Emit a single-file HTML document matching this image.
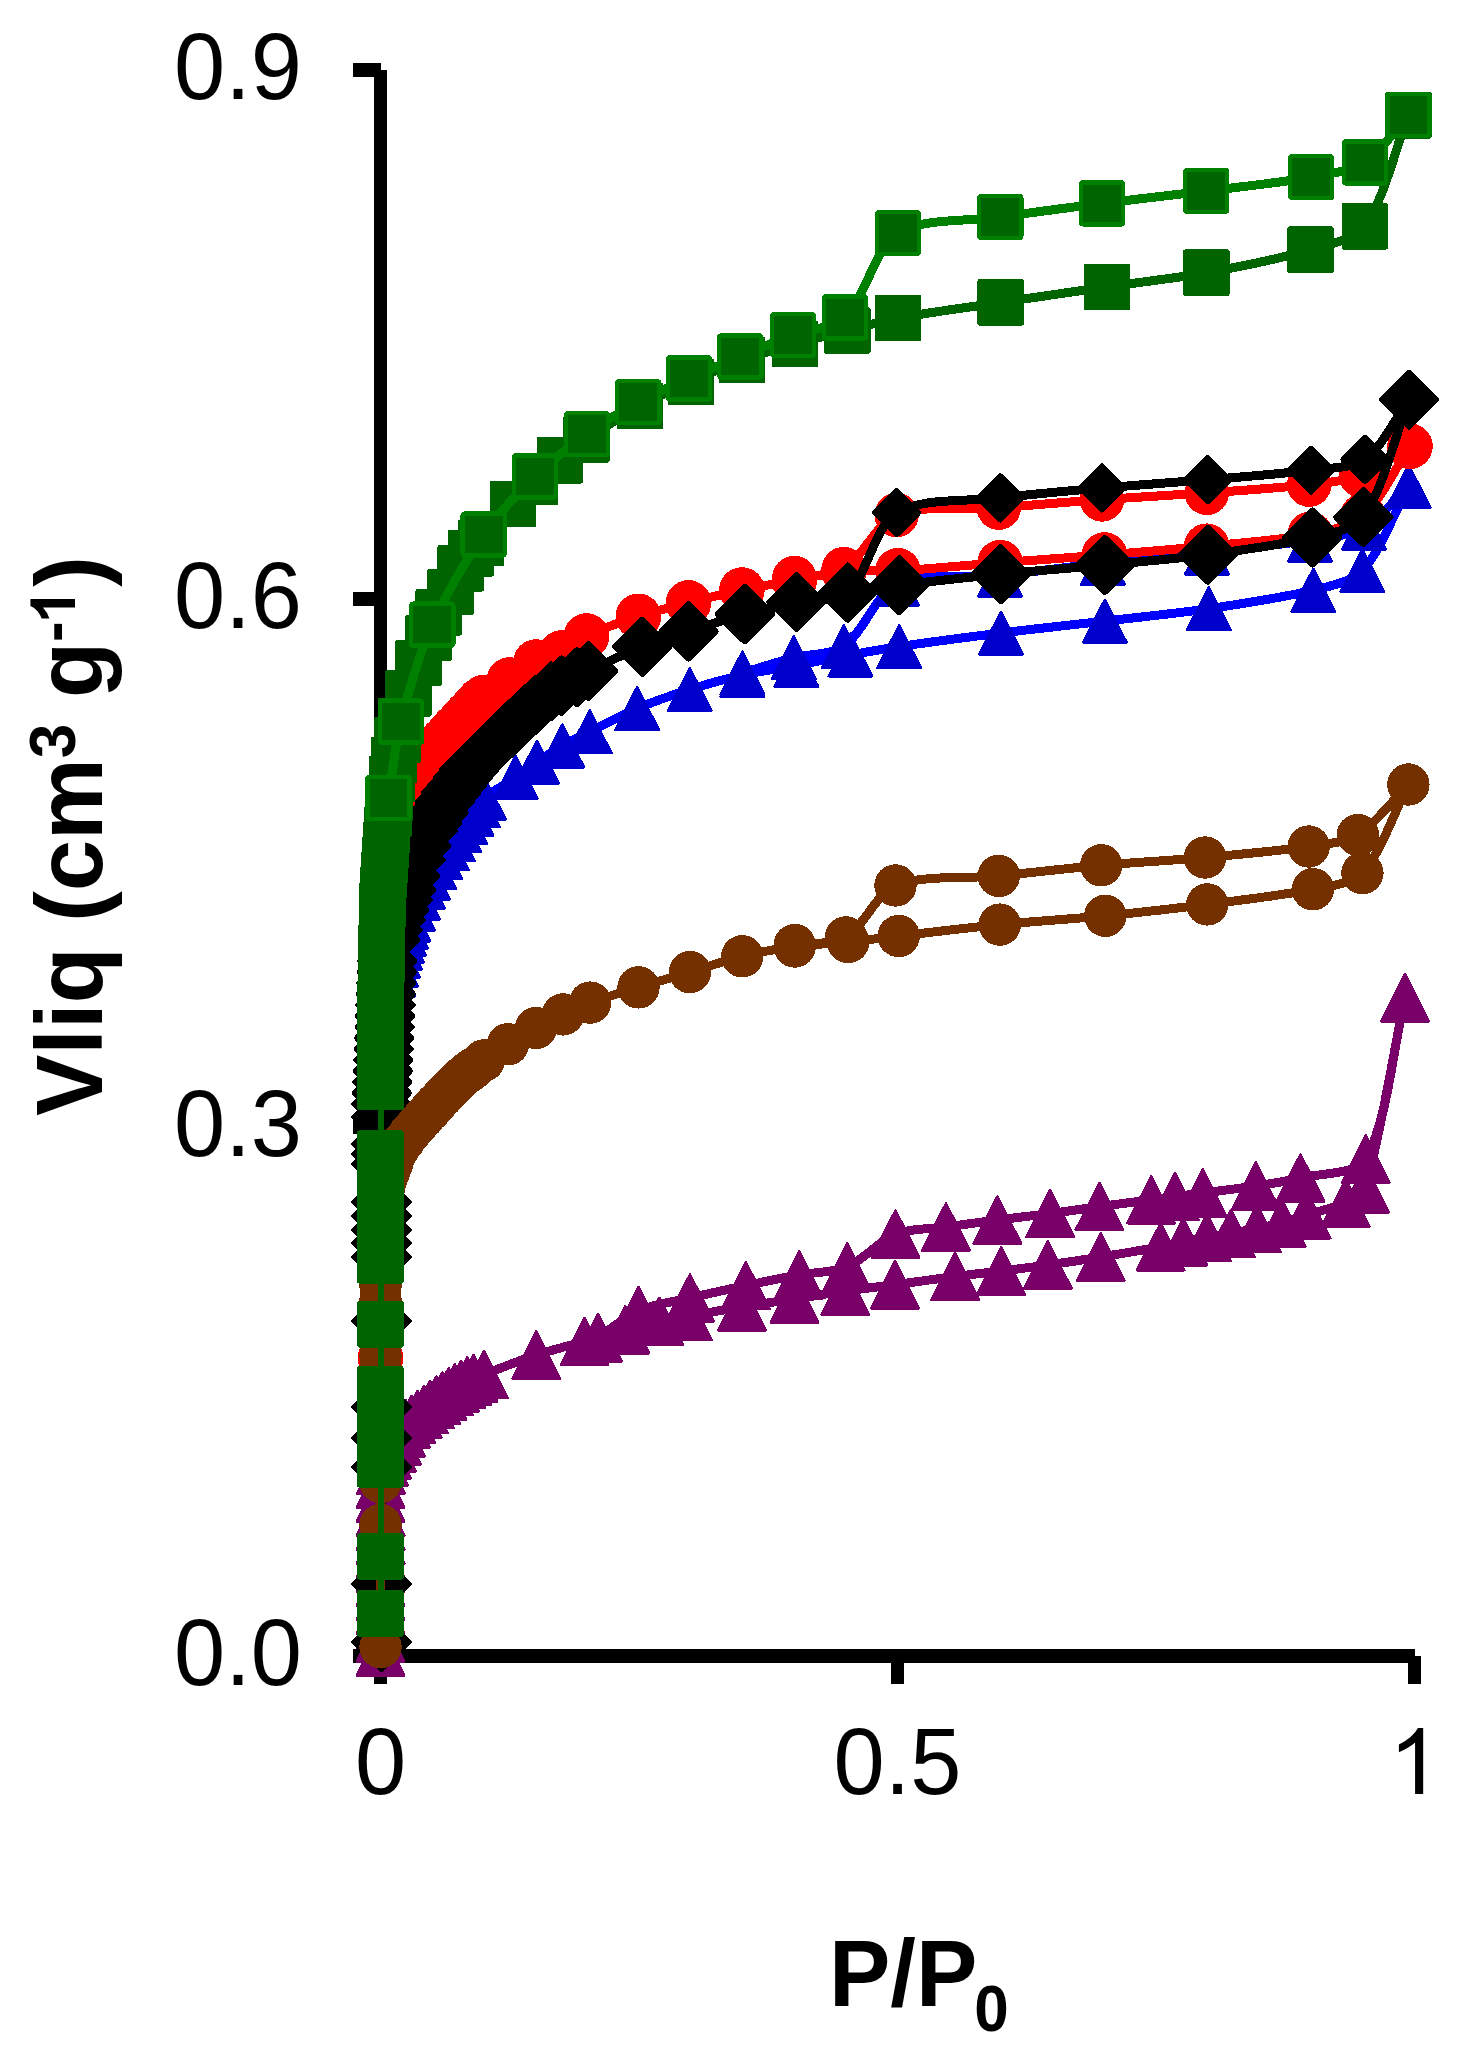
<!DOCTYPE html>
<html lang="en">
<head>
<meta charset="utf-8">
<title>Adsorption isotherms</title>
<style>
html,body{margin:0;padding:0;background:#fff;}
body{width:1479px;height:2061px;position:relative;overflow:hidden;font-family:"Liberation Sans",sans-serif;color:#000;}
svg{position:absolute;left:0;top:0;display:block;}
.t{position:absolute;white-space:nowrap;line-height:1;font-size:92px;}
.s{display:inline-block;transform:scaleY(1.035);transform-origin:50% 84.65%;}
.yt{text-align:right;width:200px;left:102px;}
.xt{text-align:center;width:200px;}
.b{font-weight:bold;}
sup,sub{font-size:62px;line-height:0;}
.ph{display:inline-block;width:34.5px;height:1px;}
</style>
</head>
<body>
<svg width="1479" height="2061" viewBox="0 0 1479 2061" shape-rendering="crispEdges">
<g fill="#000">
<rect x="374" y="70" width="13" height="1593"/>
<rect x="353" y="63" width="28" height="14"/>
<rect x="353" y="591.7" width="28" height="14"/>
<rect x="353" y="1120.3" width="28" height="14"/>
<rect x="353" y="1649" width="1062" height="14"/>
<rect x="374" y="1656" width="13" height="28"/>
<rect x="891" y="1656" width="13" height="28"/>
<rect x="1408" y="1656" width="13" height="28"/>
</g><g fill="#000" shape-rendering="geometricPrecision"><path transform="translate(1388.9 1794) scale(0.04492 -0.04492)" d="M763 0H583V1147Q518 1085 412.5 1023Q307 961 223 930V1104Q374 1175 487 1276Q600 1377 647 1472H763Z"/><path transform="translate(75 623.4) rotate(-90) scale(0.03027 -0.03027)" d="M806 0H525V1059Q371 915 162 846V1101Q272 1137 401 1237.5Q530 1338 578 1472H806Z"/></g>
<g><path d="M380.5 1652C380.5 1647.8 380.5 1642.2 380.5 1638C380.5 1633.8 380.5 1628.2 380.5 1624C380.5 1619.8 380.5 1614.2 380.5 1610C380.5 1605.8 380.5 1600.2 380.5 1596C380.5 1591.8 380.5 1586.2 380.5 1582C380.5 1577.8 380.5 1572.2 380.5 1568C380.5 1563.8 380.5 1558.2 380.5 1554C380.5 1549.8 380.5 1544.2 380.5 1540C380.5 1535.8 380.5 1530.2 380.5 1526C380.5 1521.8 380.5 1516.2 380.5 1512C380.5 1507.8 380.5 1502.2 380.5 1498C380.5 1493.8 380.4 1488.2 380.5 1484C380.6 1479.8 380.3 1474.1 381 1470C381.4 1467.5 383 1464.4 384 1462C384.8 1459.9 385.9 1457 387 1455C388.3 1452.8 390.5 1450.1 392 1448C393.5 1445.9 395.7 1443.2 397 1441C398.4 1438.7 399.7 1435.4 401 1433C402.4 1430.3 404.1 1426.4 406 1424C407.3 1422.3 409.9 1420.8 411.5 1419.4C413.4 1417.9 415.9 1415.9 417.7 1414.3C419.6 1412.8 422 1410.7 423.9 1409.2C425.8 1407.8 428.3 1406 430.1 1404.6C432 1403.3 434.5 1401.5 436.3 1400.2C438.2 1398.9 440.7 1397.1 442.5 1395.8C444.4 1394.6 446.8 1392.8 448.7 1391.6C450.6 1390.4 453.1 1389.1 454.9 1388C456.8 1386.9 459.3 1385.5 461.2 1384.4C463 1383.4 465.4 1381.8 467.4 1380.9C469.2 1380 471.7 1379.1 473.6 1378.4C476.7 1377.2 480.8 1375.6 483.9 1374.4C499.6 1368.6 520.3 1360.2 536.2 1355C550.5 1350.3 570 1345.5 584.5 1341.4C596.8 1337.9 613.1 1333.1 625.4 1329.8C635.5 1327.1 649 1323.5 659.2 1321.3C667.8 1319.5 679.4 1317.8 688 1316.3C704.2 1313.5 725.8 1309.4 742 1306.8C757.7 1304.2 778.8 1301.4 794.5 1299C809.7 1296.7 830 1293.2 845.2 1291C860.1 1288.9 880.1 1286.7 895 1284.7C913.1 1282.3 937.1 1278.8 955.2 1276.5C969 1274.7 987.3 1272.7 1001.1 1271C1015.1 1269.3 1033.9 1267 1047.9 1265C1063.8 1262.8 1084.9 1259.6 1100.7 1257C1118.7 1254.1 1142.7 1250.1 1160.6 1246.8C1167.5 1245.5 1176.5 1243.2 1183.3 1241.8C1190.4 1240.4 1200 1238.8 1207.1 1237.5C1214.2 1236.2 1223.8 1234.5 1230.9 1233.2C1238.7 1231.8 1249.1 1230 1256.9 1228.4C1264.4 1226.9 1274.4 1225 1281.7 1223C1289.3 1220.9 1299.1 1217.1 1306.6 1214.8C1318.3 1211.1 1334.6 1207.9 1345.6 1203C1352.1 1200.1 1363 1195.6 1365 1188.8C1380.9 1134 1393 1055 1405 997.7" fill="none" stroke="#780068" stroke-width="9" stroke-linejoin="round" stroke-linecap="round"/>
<path d="M380.5 1628.5L404.2 1675.5L356.8 1675.5Z" fill="#780068" stroke="#780068" stroke-width="2.6" stroke-linejoin="round"/>
<path d="M380.5 1614.5L404.2 1661.5L356.8 1661.5Z" fill="#780068" stroke="#780068" stroke-width="2.6" stroke-linejoin="round"/>
<path d="M380.5 1600.5L404.2 1647.5L356.8 1647.5Z" fill="#780068" stroke="#780068" stroke-width="2.6" stroke-linejoin="round"/>
<path d="M380.5 1586.5L404.2 1633.5L356.8 1633.5Z" fill="#780068" stroke="#780068" stroke-width="2.6" stroke-linejoin="round"/>
<path d="M380.5 1572.5L404.2 1619.5L356.8 1619.5Z" fill="#780068" stroke="#780068" stroke-width="2.6" stroke-linejoin="round"/>
<path d="M380.5 1558.5L404.2 1605.5L356.8 1605.5Z" fill="#780068" stroke="#780068" stroke-width="2.6" stroke-linejoin="round"/>
<path d="M380.5 1544.5L404.2 1591.5L356.8 1591.5Z" fill="#780068" stroke="#780068" stroke-width="2.6" stroke-linejoin="round"/>
<path d="M380.5 1530.5L404.2 1577.5L356.8 1577.5Z" fill="#780068" stroke="#780068" stroke-width="2.6" stroke-linejoin="round"/>
<path d="M380.5 1516.5L404.2 1563.5L356.8 1563.5Z" fill="#780068" stroke="#780068" stroke-width="2.6" stroke-linejoin="round"/>
<path d="M380.5 1502.5L404.2 1549.5L356.8 1549.5Z" fill="#780068" stroke="#780068" stroke-width="2.6" stroke-linejoin="round"/>
<path d="M380.5 1488.5L404.2 1535.5L356.8 1535.5Z" fill="#780068" stroke="#780068" stroke-width="2.6" stroke-linejoin="round"/>
<path d="M380.5 1474.5L404.2 1521.5L356.8 1521.5Z" fill="#780068" stroke="#780068" stroke-width="2.6" stroke-linejoin="round"/>
<path d="M380.5 1460.5L404.2 1507.5L356.8 1507.5Z" fill="#780068" stroke="#780068" stroke-width="2.6" stroke-linejoin="round"/>
<path d="M381 1446.5L404.7 1493.5L357.3 1493.5Z" fill="#780068" stroke="#780068" stroke-width="2.6" stroke-linejoin="round"/>
<path d="M384 1438.5L407.7 1485.5L360.3 1485.5Z" fill="#780068" stroke="#780068" stroke-width="2.6" stroke-linejoin="round"/>
<path d="M387 1431.5L410.7 1478.5L363.3 1478.5Z" fill="#780068" stroke="#780068" stroke-width="2.6" stroke-linejoin="round"/>
<path d="M392 1424.5L415.7 1471.5L368.3 1471.5Z" fill="#780068" stroke="#780068" stroke-width="2.6" stroke-linejoin="round"/>
<path d="M397 1417.5L420.7 1464.5L373.3 1464.5Z" fill="#780068" stroke="#780068" stroke-width="2.6" stroke-linejoin="round"/>
<path d="M401 1409.5L424.7 1456.5L377.3 1456.5Z" fill="#780068" stroke="#780068" stroke-width="2.6" stroke-linejoin="round"/>
<path d="M406 1400.5L429.7 1447.5L382.3 1447.5Z" fill="#780068" stroke="#780068" stroke-width="2.6" stroke-linejoin="round"/>
<path d="M411.5 1396L435.2 1442.9L387.8 1442.9Z" fill="#780068" stroke="#780068" stroke-width="2.6" stroke-linejoin="round"/>
<path d="M417.7 1390.9L441.4 1437.8L394 1437.8Z" fill="#780068" stroke="#780068" stroke-width="2.6" stroke-linejoin="round"/>
<path d="M423.9 1385.8L447.6 1432.7L400.2 1432.7Z" fill="#780068" stroke="#780068" stroke-width="2.6" stroke-linejoin="round"/>
<path d="M430.1 1381.1L453.8 1428L406.4 1428Z" fill="#780068" stroke="#780068" stroke-width="2.6" stroke-linejoin="round"/>
<path d="M436.3 1376.8L460 1423.7L412.6 1423.7Z" fill="#780068" stroke="#780068" stroke-width="2.6" stroke-linejoin="round"/>
<path d="M442.5 1372.4L466.2 1419.3L418.8 1419.3Z" fill="#780068" stroke="#780068" stroke-width="2.6" stroke-linejoin="round"/>
<path d="M448.7 1368.1L472.4 1415L425 1415Z" fill="#780068" stroke="#780068" stroke-width="2.6" stroke-linejoin="round"/>
<path d="M454.9 1364.6L478.6 1411.5L431.2 1411.5Z" fill="#780068" stroke="#780068" stroke-width="2.6" stroke-linejoin="round"/>
<path d="M461.2 1361L484.9 1407.9L437.5 1407.9Z" fill="#780068" stroke="#780068" stroke-width="2.6" stroke-linejoin="round"/>
<path d="M467.4 1357.4L491.1 1404.3L443.7 1404.3Z" fill="#780068" stroke="#780068" stroke-width="2.6" stroke-linejoin="round"/>
<path d="M473.6 1354.9L497.3 1401.8L449.9 1401.8Z" fill="#780068" stroke="#780068" stroke-width="2.6" stroke-linejoin="round"/>
<path d="M483.9 1351L507.6 1397.9L460.2 1397.9Z" fill="#780068" stroke="#780068" stroke-width="2.6" stroke-linejoin="round"/>
<path d="M536.2 1331.5L559.9 1378.5L512.5 1378.5Z" fill="#780068" stroke="#780068" stroke-width="2.6" stroke-linejoin="round"/>
<path d="M584.5 1318L608.2 1364.9L560.8 1364.9Z" fill="#780068" stroke="#780068" stroke-width="2.6" stroke-linejoin="round"/>
<path d="M625.4 1306.3L649.1 1353.2L601.7 1353.2Z" fill="#780068" stroke="#780068" stroke-width="2.6" stroke-linejoin="round"/>
<path d="M659.2 1297.8L682.9 1344.8L635.5 1344.8Z" fill="#780068" stroke="#780068" stroke-width="2.6" stroke-linejoin="round"/>
<path d="M688 1292.8L711.7 1339.8L664.3 1339.8Z" fill="#780068" stroke="#780068" stroke-width="2.6" stroke-linejoin="round"/>
<path d="M742 1283.3L765.7 1330.2L718.3 1330.2Z" fill="#780068" stroke="#780068" stroke-width="2.6" stroke-linejoin="round"/>
<path d="M794.5 1275.5L818.2 1322.5L770.8 1322.5Z" fill="#780068" stroke="#780068" stroke-width="2.6" stroke-linejoin="round"/>
<path d="M845.2 1267.5L868.9 1314.5L821.5 1314.5Z" fill="#780068" stroke="#780068" stroke-width="2.6" stroke-linejoin="round"/>
<path d="M895 1261.2L918.7 1308.2L871.3 1308.2Z" fill="#780068" stroke="#780068" stroke-width="2.6" stroke-linejoin="round"/>
<path d="M955.2 1253L978.9 1300L931.5 1300Z" fill="#780068" stroke="#780068" stroke-width="2.6" stroke-linejoin="round"/>
<path d="M1001.1 1247.5L1024.8 1294.5L977.4 1294.5Z" fill="#780068" stroke="#780068" stroke-width="2.6" stroke-linejoin="round"/>
<path d="M1047.9 1241.5L1071.6 1288.5L1024.2 1288.5Z" fill="#780068" stroke="#780068" stroke-width="2.6" stroke-linejoin="round"/>
<path d="M1100.7 1233.5L1124.4 1280.5L1077 1280.5Z" fill="#780068" stroke="#780068" stroke-width="2.6" stroke-linejoin="round"/>
<path d="M1160.6 1223.3L1184.3 1270.2L1136.9 1270.2Z" fill="#780068" stroke="#780068" stroke-width="2.6" stroke-linejoin="round"/>
<path d="M1183.3 1218.3L1207 1265.2L1159.6 1265.2Z" fill="#780068" stroke="#780068" stroke-width="2.6" stroke-linejoin="round"/>
<path d="M1207.1 1214L1230.8 1261L1183.4 1261Z" fill="#780068" stroke="#780068" stroke-width="2.6" stroke-linejoin="round"/>
<path d="M1230.9 1209.8L1254.6 1256.7L1207.2 1256.7Z" fill="#780068" stroke="#780068" stroke-width="2.6" stroke-linejoin="round"/>
<path d="M1256.9 1205L1280.6 1251.9L1233.2 1251.9Z" fill="#780068" stroke="#780068" stroke-width="2.6" stroke-linejoin="round"/>
<path d="M1281.7 1199.5L1305.4 1246.5L1258 1246.5Z" fill="#780068" stroke="#780068" stroke-width="2.6" stroke-linejoin="round"/>
<path d="M1306.6 1191.3L1330.3 1238.2L1282.9 1238.2Z" fill="#780068" stroke="#780068" stroke-width="2.6" stroke-linejoin="round"/>
<path d="M1345.6 1179.5L1369.3 1226.5L1321.9 1226.5Z" fill="#780068" stroke="#780068" stroke-width="2.6" stroke-linejoin="round"/>
<path d="M1365 1165.3L1388.7 1212.2L1341.3 1212.2Z" fill="#780068" stroke="#780068" stroke-width="2.6" stroke-linejoin="round"/>
<path d="M1405 974.2L1428.7 1021.2L1381.3 1021.2Z" fill="#780068" stroke="#780068" stroke-width="2.6" stroke-linejoin="round"/>
<path d="M1405 997.7C1393.2 1046.1 1387.9 1120.6 1365.7 1159C1356.6 1174.7 1320.3 1173.1 1300.5 1178C1287.3 1181.2 1269.3 1183.9 1255.9 1186C1240 1188.4 1218.7 1190.9 1202.7 1193C1194.4 1194.1 1183.4 1195.4 1175.1 1196.5C1167.9 1197.4 1158.4 1198.7 1151.2 1199.7C1135.7 1201.8 1114.9 1204.5 1099.4 1206.6C1084.6 1208.6 1065 1211.6 1050.2 1213.5C1034.4 1215.6 1013.2 1217.9 997.4 1220C982 1222 961.4 1224.9 946 1227C930.8 1229.1 909.3 1228.4 895.5 1234C879.7 1240.4 863.1 1260.3 847.3 1267C834.2 1272.6 813.6 1272.2 799.2 1274.8C783.1 1277.7 761.8 1282.2 745.8 1285.6C729 1289.2 706.7 1294.1 690 1298C674.5 1301.6 653 1304.4 638.6 1310.6C625.4 1316.3 610.2 1329.6 598 1337.7" fill="none" stroke="#780068" stroke-width="9" stroke-linejoin="round" stroke-linecap="round"/>
<path d="M1405 974.2L1428.7 1021.2L1381.3 1021.2Z" fill="#780068" stroke="#780068" stroke-width="2.6" stroke-linejoin="round"/>
<path d="M1365.7 1135.5L1389.4 1182.5L1342 1182.5Z" fill="#780068" stroke="#780068" stroke-width="2.6" stroke-linejoin="round"/>
<path d="M1300.5 1154.5L1324.2 1201.5L1276.8 1201.5Z" fill="#780068" stroke="#780068" stroke-width="2.6" stroke-linejoin="round"/>
<path d="M1255.9 1162.5L1279.6 1209.5L1232.2 1209.5Z" fill="#780068" stroke="#780068" stroke-width="2.6" stroke-linejoin="round"/>
<path d="M1202.7 1169.5L1226.4 1216.5L1179 1216.5Z" fill="#780068" stroke="#780068" stroke-width="2.6" stroke-linejoin="round"/>
<path d="M1175.1 1173L1198.8 1220L1151.4 1220Z" fill="#780068" stroke="#780068" stroke-width="2.6" stroke-linejoin="round"/>
<path d="M1151.2 1176.2L1174.9 1223.2L1127.5 1223.2Z" fill="#780068" stroke="#780068" stroke-width="2.6" stroke-linejoin="round"/>
<path d="M1099.4 1183.1L1123.1 1230L1075.7 1230Z" fill="#780068" stroke="#780068" stroke-width="2.6" stroke-linejoin="round"/>
<path d="M1050.2 1190L1073.9 1237L1026.5 1237Z" fill="#780068" stroke="#780068" stroke-width="2.6" stroke-linejoin="round"/>
<path d="M997.4 1196.5L1021.1 1243.5L973.7 1243.5Z" fill="#780068" stroke="#780068" stroke-width="2.6" stroke-linejoin="round"/>
<path d="M946 1203.5L969.7 1250.5L922.3 1250.5Z" fill="#780068" stroke="#780068" stroke-width="2.6" stroke-linejoin="round"/>
<path d="M895.5 1210.5L919.2 1257.5L871.8 1257.5Z" fill="#780068" stroke="#780068" stroke-width="2.6" stroke-linejoin="round"/>
<path d="M847.3 1243.5L871 1290.5L823.6 1290.5Z" fill="#780068" stroke="#780068" stroke-width="2.6" stroke-linejoin="round"/>
<path d="M799.2 1251.3L822.9 1298.2L775.5 1298.2Z" fill="#780068" stroke="#780068" stroke-width="2.6" stroke-linejoin="round"/>
<path d="M745.8 1262.1L769.5 1309L722.1 1309Z" fill="#780068" stroke="#780068" stroke-width="2.6" stroke-linejoin="round"/>
<path d="M690 1274.5L713.7 1321.5L666.3 1321.5Z" fill="#780068" stroke="#780068" stroke-width="2.6" stroke-linejoin="round"/>
<path d="M638.6 1287.1L662.3 1334L614.9 1334Z" fill="#780068" stroke="#780068" stroke-width="2.6" stroke-linejoin="round"/>
<path d="M598 1314.2L621.7 1361.2L574.3 1361.2Z" fill="#780068" stroke="#780068" stroke-width="2.6" stroke-linejoin="round"/></g>
<g><path d="M380.5 1613C380.5 1595.9 380.5 1573.1 380.5 1556C380.5 1521.2 380.5 1474.8 380.5 1440C380.5 1413 380.5 1377 380.5 1350C380.5 1320 380.5 1280 380.5 1250C380.5 1232 380.5 1208 380.5 1190C380.5 1161.5 380.5 1123.5 380.5 1095C380.5 1090.8 380.5 1085.2 380.5 1081C380.5 1076.8 380.5 1071.2 380.5 1067C380.5 1062.8 380.5 1057.2 380.5 1053C380.5 1048.8 380.5 1043.2 380.5 1039C380.5 1034.8 380.2 1029.2 380.5 1025C380.7 1022 381.5 1018 382 1015C382.4 1012.9 383 1010.1 383.5 1008C383.9 1006.2 384.5 1003.8 385 1002C385.8 999.3 387.1 995.7 388 993C388.9 990.6 390.3 987.4 391 985C391.9 982 392.8 978 393.5 975C394.2 972 395.3 968 396 965C396.6 962.3 397.4 958.7 398 956C398.6 953.6 399.4 950.4 400 948C400.6 945.9 401.4 943.1 402 941C402.6 938.9 403.4 936.1 404 934C404.6 931.9 405.3 929.1 406 927C406.7 924.9 407.7 922.1 408.5 920C409.8 916.7 411.6 912.3 413 909C414.4 905.7 416.5 901.3 418 898C419.5 894.7 421.4 890.2 423 887C424.4 884.2 426.5 880.7 428.1 878C429.9 874.9 432.4 870.9 434.3 867.9C436.1 864.8 438.5 860.7 440.5 857.7C442.3 854.9 444.8 851.4 446.7 848.7C448.5 845.9 451 842.3 452.9 839.6C454.7 836.9 457.2 833.3 459.1 830.6C460.9 828.1 463.4 824.8 465.3 822.4C467.1 819.9 469.6 816.6 471.5 814.1C473.4 811.6 475.8 808.3 477.7 805.8C479.5 803.5 481.5 799.8 483.9 798C492.9 791.3 506.2 783.7 515.6 777.3C522.1 772.9 530.4 766.4 537 762C544.5 757 554.5 750.5 562.3 746C570.3 741.4 581.4 735.9 589.7 731.7C603.9 724.6 622.5 714.6 637.1 708.5C652.6 702 673.8 694.6 689.8 689.5C705.4 684.6 726.5 678.7 742.4 675.1C758.4 671.5 780.2 668.3 796.4 665.3C812.6 662.3 834.2 658 850.4 655C865 652.3 884.5 648.7 899.2 646.6C929.7 642.1 970.4 636.8 1001 633C1032.1 629.1 1073.7 624.7 1104.8 621.1C1136 617.5 1177.7 613.3 1208.8 608.7C1240.3 604 1282.5 597.8 1313.3 590.2C1328.6 586.4 1352.3 581.8 1362.4 570.7C1380.9 550.6 1394.7 511.6 1408.6 486.2" fill="none" stroke="#0000ff" stroke-width="9" stroke-linejoin="round" stroke-linecap="round"/>
<path d="M380.5 1591.8L402.2 1634.2L358.8 1634.2Z" fill="#0000cd" stroke="#0000cd" stroke-width="2.6" stroke-linejoin="round"/>
<path d="M380.5 1534.8L402.2 1577.2L358.8 1577.2Z" fill="#0000cd" stroke="#0000cd" stroke-width="2.6" stroke-linejoin="round"/>
<path d="M380.5 1418.8L402.2 1461.2L358.8 1461.2Z" fill="#0000cd" stroke="#0000cd" stroke-width="2.6" stroke-linejoin="round"/>
<path d="M380.5 1328.8L402.2 1371.2L358.8 1371.2Z" fill="#0000cd" stroke="#0000cd" stroke-width="2.6" stroke-linejoin="round"/>
<path d="M380.5 1228.8L402.2 1271.2L358.8 1271.2Z" fill="#0000cd" stroke="#0000cd" stroke-width="2.6" stroke-linejoin="round"/>
<path d="M380.5 1168.8L402.2 1211.2L358.8 1211.2Z" fill="#0000cd" stroke="#0000cd" stroke-width="2.6" stroke-linejoin="round"/>
<path d="M380.5 1073.8L402.2 1116.2L358.8 1116.2Z" fill="#0000cd" stroke="#0000cd" stroke-width="2.6" stroke-linejoin="round"/>
<path d="M380.5 1059.8L402.2 1102.2L358.8 1102.2Z" fill="#0000cd" stroke="#0000cd" stroke-width="2.6" stroke-linejoin="round"/>
<path d="M380.5 1045.8L402.2 1088.2L358.8 1088.2Z" fill="#0000cd" stroke="#0000cd" stroke-width="2.6" stroke-linejoin="round"/>
<path d="M380.5 1031.8L402.2 1074.2L358.8 1074.2Z" fill="#0000cd" stroke="#0000cd" stroke-width="2.6" stroke-linejoin="round"/>
<path d="M380.5 1017.8L402.2 1060.2L358.8 1060.2Z" fill="#0000cd" stroke="#0000cd" stroke-width="2.6" stroke-linejoin="round"/>
<path d="M380.5 1003.8L402.2 1046.2L358.8 1046.2Z" fill="#0000cd" stroke="#0000cd" stroke-width="2.6" stroke-linejoin="round"/>
<path d="M382 993.8L403.7 1036.2L360.3 1036.2Z" fill="#0000cd" stroke="#0000cd" stroke-width="2.6" stroke-linejoin="round"/>
<path d="M383.5 986.8L405.2 1029.2L361.8 1029.2Z" fill="#0000cd" stroke="#0000cd" stroke-width="2.6" stroke-linejoin="round"/>
<path d="M385 980.8L406.7 1023.2L363.3 1023.2Z" fill="#0000cd" stroke="#0000cd" stroke-width="2.6" stroke-linejoin="round"/>
<path d="M388 971.8L409.7 1014.2L366.3 1014.2Z" fill="#0000cd" stroke="#0000cd" stroke-width="2.6" stroke-linejoin="round"/>
<path d="M391 963.8L412.7 1006.2L369.3 1006.2Z" fill="#0000cd" stroke="#0000cd" stroke-width="2.6" stroke-linejoin="round"/>
<path d="M393.5 953.8L415.2 996.2L371.8 996.2Z" fill="#0000cd" stroke="#0000cd" stroke-width="2.6" stroke-linejoin="round"/>
<path d="M396 943.8L417.7 986.2L374.3 986.2Z" fill="#0000cd" stroke="#0000cd" stroke-width="2.6" stroke-linejoin="round"/>
<path d="M398 934.8L419.7 977.2L376.3 977.2Z" fill="#0000cd" stroke="#0000cd" stroke-width="2.6" stroke-linejoin="round"/>
<path d="M400 926.8L421.7 969.2L378.3 969.2Z" fill="#0000cd" stroke="#0000cd" stroke-width="2.6" stroke-linejoin="round"/>
<path d="M402 919.8L423.7 962.2L380.3 962.2Z" fill="#0000cd" stroke="#0000cd" stroke-width="2.6" stroke-linejoin="round"/>
<path d="M404 912.8L425.7 955.2L382.3 955.2Z" fill="#0000cd" stroke="#0000cd" stroke-width="2.6" stroke-linejoin="round"/>
<path d="M406 905.8L427.7 948.2L384.3 948.2Z" fill="#0000cd" stroke="#0000cd" stroke-width="2.6" stroke-linejoin="round"/>
<path d="M408.5 898.8L430.2 941.2L386.8 941.2Z" fill="#0000cd" stroke="#0000cd" stroke-width="2.6" stroke-linejoin="round"/>
<path d="M413 887.8L434.7 930.2L391.3 930.2Z" fill="#0000cd" stroke="#0000cd" stroke-width="2.6" stroke-linejoin="round"/>
<path d="M418 876.8L439.7 919.2L396.3 919.2Z" fill="#0000cd" stroke="#0000cd" stroke-width="2.6" stroke-linejoin="round"/>
<path d="M423 865.8L444.7 908.2L401.3 908.2Z" fill="#0000cd" stroke="#0000cd" stroke-width="2.6" stroke-linejoin="round"/>
<path d="M428.1 856.8L449.8 899.2L406.4 899.2Z" fill="#0000cd" stroke="#0000cd" stroke-width="2.6" stroke-linejoin="round"/>
<path d="M434.3 846.7L456 889.1L412.6 889.1Z" fill="#0000cd" stroke="#0000cd" stroke-width="2.6" stroke-linejoin="round"/>
<path d="M440.5 836.5L462.2 878.9L418.8 878.9Z" fill="#0000cd" stroke="#0000cd" stroke-width="2.6" stroke-linejoin="round"/>
<path d="M446.7 827.5L468.4 869.9L425 869.9Z" fill="#0000cd" stroke="#0000cd" stroke-width="2.6" stroke-linejoin="round"/>
<path d="M452.9 818.4L474.6 860.8L431.2 860.8Z" fill="#0000cd" stroke="#0000cd" stroke-width="2.6" stroke-linejoin="round"/>
<path d="M459.1 809.4L480.8 851.8L437.4 851.8Z" fill="#0000cd" stroke="#0000cd" stroke-width="2.6" stroke-linejoin="round"/>
<path d="M465.3 801.2L487 843.6L443.6 843.6Z" fill="#0000cd" stroke="#0000cd" stroke-width="2.6" stroke-linejoin="round"/>
<path d="M471.5 792.9L493.2 835.3L449.8 835.3Z" fill="#0000cd" stroke="#0000cd" stroke-width="2.6" stroke-linejoin="round"/>
<path d="M477.7 784.6L499.4 827L456 827Z" fill="#0000cd" stroke="#0000cd" stroke-width="2.6" stroke-linejoin="round"/>
<path d="M483.9 776.8L505.6 819.2L462.2 819.2Z" fill="#0000cd" stroke="#0000cd" stroke-width="2.6" stroke-linejoin="round"/>
<path d="M515.6 756.1L537.3 798.5L493.9 798.5Z" fill="#0000cd" stroke="#0000cd" stroke-width="2.6" stroke-linejoin="round"/>
<path d="M537 740.8L558.7 783.2L515.3 783.2Z" fill="#0000cd" stroke="#0000cd" stroke-width="2.6" stroke-linejoin="round"/>
<path d="M562.3 724.8L584 767.2L540.6 767.2Z" fill="#0000cd" stroke="#0000cd" stroke-width="2.6" stroke-linejoin="round"/>
<path d="M589.7 710.5L611.4 752.9L568 752.9Z" fill="#0000cd" stroke="#0000cd" stroke-width="2.6" stroke-linejoin="round"/>
<path d="M637.1 687.3L658.8 729.7L615.4 729.7Z" fill="#0000cd" stroke="#0000cd" stroke-width="2.6" stroke-linejoin="round"/>
<path d="M689.8 668.3L711.5 710.7L668.1 710.7Z" fill="#0000cd" stroke="#0000cd" stroke-width="2.6" stroke-linejoin="round"/>
<path d="M742.4 653.9L764.1 696.3L720.7 696.3Z" fill="#0000cd" stroke="#0000cd" stroke-width="2.6" stroke-linejoin="round"/>
<path d="M796.4 644.1L818.1 686.5L774.7 686.5Z" fill="#0000cd" stroke="#0000cd" stroke-width="2.6" stroke-linejoin="round"/>
<path d="M850.4 633.8L872.1 676.2L828.7 676.2Z" fill="#0000cd" stroke="#0000cd" stroke-width="2.6" stroke-linejoin="round"/>
<path d="M899.2 625.4L920.9 667.8L877.5 667.8Z" fill="#0000cd" stroke="#0000cd" stroke-width="2.6" stroke-linejoin="round"/>
<path d="M1001 611.8L1022.7 654.2L979.3 654.2Z" fill="#0000cd" stroke="#0000cd" stroke-width="2.6" stroke-linejoin="round"/>
<path d="M1104.8 599.9L1126.5 642.3L1083.1 642.3Z" fill="#0000cd" stroke="#0000cd" stroke-width="2.6" stroke-linejoin="round"/>
<path d="M1208.8 587.5L1230.5 629.9L1187.1 629.9Z" fill="#0000cd" stroke="#0000cd" stroke-width="2.6" stroke-linejoin="round"/>
<path d="M1313.3 569L1335 611.4L1291.6 611.4Z" fill="#0000cd" stroke="#0000cd" stroke-width="2.6" stroke-linejoin="round"/>
<path d="M1362.4 549.5L1384.1 591.9L1340.7 591.9Z" fill="#0000cd" stroke="#0000cd" stroke-width="2.6" stroke-linejoin="round"/>
<path d="M1408.6 465L1430.3 507.4L1386.9 507.4Z" fill="#0000cd" stroke="#0000cd" stroke-width="2.6" stroke-linejoin="round"/>
<path d="M1408.6 486.2C1395.2 498.7 1379.5 519.5 1364 528C1349.9 535.7 1326.4 537.4 1310 540C1279.2 544.9 1237.8 549.5 1206.8 553C1175.7 556.5 1134 560 1102.9 563.3C1072 566.6 1030.9 572.1 1000 575.2C969.1 578.3 923.1 572.1 897 584C876.3 593.5 863 633 843.9 646.6C832 655.1 808.7 653.7 793.8 657.6C778.2 661.6 757.8 668.4 742.4 673" fill="none" stroke="#0000ff" stroke-width="9" stroke-linejoin="round" stroke-linecap="round"/>
<path d="M1408.6 465L1430.3 507.4L1386.9 507.4Z" fill="#0000cd" stroke="#0000cd" stroke-width="2.6" stroke-linejoin="round"/>
<path d="M1364 506.8L1385.7 549.2L1342.3 549.2Z" fill="#0000cd" stroke="#0000cd" stroke-width="2.6" stroke-linejoin="round"/>
<path d="M1310 518.8L1331.7 561.2L1288.3 561.2Z" fill="#0000cd" stroke="#0000cd" stroke-width="2.6" stroke-linejoin="round"/>
<path d="M1206.8 531.8L1228.5 574.2L1185.1 574.2Z" fill="#0000cd" stroke="#0000cd" stroke-width="2.6" stroke-linejoin="round"/>
<path d="M1102.9 542.1L1124.6 584.5L1081.2 584.5Z" fill="#0000cd" stroke="#0000cd" stroke-width="2.6" stroke-linejoin="round"/>
<path d="M1000 554L1021.7 596.4L978.3 596.4Z" fill="#0000cd" stroke="#0000cd" stroke-width="2.6" stroke-linejoin="round"/>
<path d="M897 562.8L918.7 605.2L875.3 605.2Z" fill="#0000cd" stroke="#0000cd" stroke-width="2.6" stroke-linejoin="round"/>
<path d="M843.9 625.4L865.6 667.8L822.2 667.8Z" fill="#0000cd" stroke="#0000cd" stroke-width="2.6" stroke-linejoin="round"/>
<path d="M793.8 636.4L815.5 678.8L772.1 678.8Z" fill="#0000cd" stroke="#0000cd" stroke-width="2.6" stroke-linejoin="round"/>
<path d="M742.4 651.8L764.1 694.2L720.7 694.2Z" fill="#0000cd" stroke="#0000cd" stroke-width="2.6" stroke-linejoin="round"/></g>
<g><path d="M380.5 1613C380.5 1595.9 380.5 1573.1 380.5 1556C380.5 1521.2 380.5 1474.8 380.5 1440C380.5 1415.4 380.5 1382.6 380.5 1358C380.5 1325.6 380.5 1282.4 380.5 1250C380.5 1232 380.5 1208 380.5 1190C380.5 1161.5 380.5 1123.5 380.5 1095C380.5 1090.8 380.5 1085.2 380.5 1081C380.5 1076.8 380.5 1071.2 380.5 1067C380.5 1062.8 380.5 1057.2 380.5 1053C380.5 1048.8 380.5 1043.2 380.5 1039C380.5 1034.8 380.5 1029.2 380.5 1025C380.5 1020.8 380.5 1015.2 380.5 1011C380.5 1006.8 380.5 1001.2 380.6 997C380.7 992.8 381 987.2 381.2 983C381.3 978.8 381.6 973.2 381.7 969C381.9 964.8 382.1 959.2 382.3 955C382.5 950.8 382.7 945.2 382.9 941C383.2 934.7 383.8 926.3 384 920C384.2 914 383.6 906 384 900C384.5 894 386.1 886 387 880C387.9 874 389.1 866 390 860C390.9 854.6 391.9 847.4 393 842C394 836.9 395.7 830.1 397 825C398.1 821.1 399.8 815.9 401 812C402.2 808.4 403.6 803.5 405 800C406.9 795.4 409.8 789.4 412 785C414.3 780.4 417.3 774.3 420 770C423 765.3 427.6 759.4 431 755C434.5 750.4 439.3 744.4 443 740C444.6 738.1 447 735.7 448.7 733.8C450.6 731.8 453.1 729.1 454.9 727.1C456.8 725.1 459.3 722.4 461.2 720.4C463 718.4 465.5 715.7 467.4 713.7C469.2 711.7 471.7 709 473.6 707C475.4 705 477.8 702.1 479.8 700.3C480.9 699.2 482.6 698.2 483.9 697.4C491.6 692.1 501.8 685.2 509.5 680C517.5 674.6 527.5 666.4 536 662C543.1 658.3 554.3 656.7 561.5 653C569.5 648.9 578.4 639.9 586.5 636C601.4 628.9 622.6 621.4 638.4 616.3C653.2 611.5 673.4 606.7 688.5 602.9C704.5 598.8 725.8 593.4 741.9 590C757.5 586.7 778.6 583.2 794.3 580.3C809.2 577.6 828.9 572.7 843.9 571.3C860 569.8 881.7 571.7 897.9 570.8C928.6 569.1 969.5 565 1000.2 562.7C1031.5 560.3 1073.2 557.5 1104.4 555C1135.1 552.5 1176.1 549.3 1206.8 546.2C1237.9 543.1 1279.7 540.3 1310.2 534.4C1326.6 531.2 1351 526.6 1363 516C1381 500.1 1395.9 467.1 1410 446.2" fill="none" stroke="#ff0000" stroke-width="9" stroke-linejoin="round" stroke-linecap="round"/>
<circle cx="380.5" cy="1613" r="22.8" fill="#ff0000"/>
<circle cx="380.5" cy="1556" r="22.8" fill="#ff0000"/>
<circle cx="380.5" cy="1440" r="22.8" fill="#ff0000"/>
<circle cx="380.5" cy="1358" r="22.8" fill="#ff0000"/>
<circle cx="380.5" cy="1250" r="22.8" fill="#ff0000"/>
<circle cx="380.5" cy="1190" r="22.8" fill="#ff0000"/>
<circle cx="380.5" cy="1095" r="22.8" fill="#ff0000"/>
<circle cx="380.5" cy="1081" r="22.8" fill="#ff0000"/>
<circle cx="380.5" cy="1067" r="22.8" fill="#ff0000"/>
<circle cx="380.5" cy="1053" r="22.8" fill="#ff0000"/>
<circle cx="380.5" cy="1039" r="22.8" fill="#ff0000"/>
<circle cx="380.5" cy="1025" r="22.8" fill="#ff0000"/>
<circle cx="380.5" cy="1011" r="22.8" fill="#ff0000"/>
<circle cx="380.6" cy="997" r="22.8" fill="#ff0000"/>
<circle cx="381.2" cy="983" r="22.8" fill="#ff0000"/>
<circle cx="381.7" cy="969" r="22.8" fill="#ff0000"/>
<circle cx="382.3" cy="955" r="22.8" fill="#ff0000"/>
<circle cx="382.9" cy="941" r="22.8" fill="#ff0000"/>
<circle cx="384" cy="920" r="22.8" fill="#ff0000"/>
<circle cx="384" cy="900" r="22.8" fill="#ff0000"/>
<circle cx="387" cy="880" r="22.8" fill="#ff0000"/>
<circle cx="390" cy="860" r="22.8" fill="#ff0000"/>
<circle cx="393" cy="842" r="22.8" fill="#ff0000"/>
<circle cx="397" cy="825" r="22.8" fill="#ff0000"/>
<circle cx="401" cy="812" r="22.8" fill="#ff0000"/>
<circle cx="405" cy="800" r="22.8" fill="#ff0000"/>
<circle cx="412" cy="785" r="22.8" fill="#ff0000"/>
<circle cx="420" cy="770" r="22.8" fill="#ff0000"/>
<circle cx="431" cy="755" r="22.8" fill="#ff0000"/>
<circle cx="443" cy="740" r="22.8" fill="#ff0000"/>
<circle cx="448.7" cy="733.8" r="22.8" fill="#ff0000"/>
<circle cx="454.9" cy="727.1" r="22.8" fill="#ff0000"/>
<circle cx="461.2" cy="720.4" r="22.8" fill="#ff0000"/>
<circle cx="467.4" cy="713.7" r="22.8" fill="#ff0000"/>
<circle cx="473.6" cy="707" r="22.8" fill="#ff0000"/>
<circle cx="479.8" cy="700.3" r="22.8" fill="#ff0000"/>
<circle cx="483.9" cy="697.4" r="22.8" fill="#ff0000"/>
<circle cx="509.5" cy="680" r="22.8" fill="#ff0000"/>
<circle cx="536" cy="662" r="22.8" fill="#ff0000"/>
<circle cx="561.5" cy="653" r="22.8" fill="#ff0000"/>
<circle cx="586.5" cy="636" r="22.8" fill="#ff0000"/>
<circle cx="638.4" cy="616.3" r="22.8" fill="#ff0000"/>
<circle cx="688.5" cy="602.9" r="22.8" fill="#ff0000"/>
<circle cx="741.9" cy="590" r="22.8" fill="#ff0000"/>
<circle cx="794.3" cy="580.3" r="22.8" fill="#ff0000"/>
<circle cx="843.9" cy="571.3" r="22.8" fill="#ff0000"/>
<circle cx="897.9" cy="570.8" r="22.8" fill="#ff0000"/>
<circle cx="1000.2" cy="562.7" r="22.8" fill="#ff0000"/>
<circle cx="1104.4" cy="555" r="22.8" fill="#ff0000"/>
<circle cx="1206.8" cy="546.2" r="22.8" fill="#ff0000"/>
<circle cx="1310.2" cy="534.4" r="22.8" fill="#ff0000"/>
<circle cx="1363" cy="516" r="22.8" fill="#ff0000"/>
<circle cx="1410" cy="446.2" r="22.8" fill="#ff0000"/>
<path d="M1410 446.2C1395.3 455 1376.7 469.6 1361 475.6C1346.5 481.1 1324.9 482.9 1309.2 484.7C1278.6 488.1 1237.5 490.7 1206.8 492.9C1175.4 495.1 1133.4 497.3 1102 499.5C1071 501.7 1029.8 505.4 998.8 507.7C968.1 510 923.4 504.4 896.6 515C876.9 522.8 862.3 557.7 843.9 569C831.6 576.6 809.2 575.3 794.3 578" fill="none" stroke="#ff0000" stroke-width="9" stroke-linejoin="round" stroke-linecap="round"/>
<circle cx="1410" cy="446.2" r="22.2" fill="#ff0000"/>
<circle cx="1361" cy="475.6" r="22.2" fill="#ff0000"/>
<circle cx="1309.2" cy="484.7" r="22.2" fill="#ff0000"/>
<circle cx="1206.8" cy="492.9" r="22.2" fill="#ff0000"/>
<circle cx="1102" cy="499.5" r="22.2" fill="#ff0000"/>
<circle cx="998.8" cy="507.7" r="22.2" fill="#ff0000"/>
<circle cx="896.6" cy="515" r="22.2" fill="#ff0000"/>
<circle cx="843.9" cy="569" r="22.2" fill="#ff0000"/>
<circle cx="794.3" cy="578" r="22.2" fill="#ff0000"/></g>
<g><path d="M381.5 1642C381.5 1624.6 381.5 1601.4 381.5 1584C381.5 1548.9 381.5 1502.1 381.5 1467C381.5 1458.3 381.5 1446.7 381.5 1438C381.5 1428.7 381.5 1416.3 381.5 1407C381.5 1381.2 381.5 1346.8 381.5 1321C381.5 1301.8 381.5 1276.2 381.5 1257C381.5 1252.8 381.5 1247.2 381.5 1243C381.5 1239.1 381.5 1233.9 381.5 1230C381.5 1225.8 381.5 1220.2 381.5 1216C381.5 1211.8 381.5 1206.2 381.5 1202C381.5 1190.6 381.5 1175.4 381.5 1164C381.5 1161 381.5 1157 381.5 1154C381.5 1151 381.5 1147 381.5 1144C381.5 1135.9 381.5 1125.1 381.5 1117C381.5 1113.1 381.4 1107.9 381.5 1104C381.6 1100.7 381.8 1096.3 381.9 1093C382.1 1089.7 382.2 1085.3 382.4 1082C382.5 1078.7 382.7 1074.3 382.8 1071C383 1067.7 383.1 1063.3 383.3 1060C383.4 1056.7 383.6 1052.3 383.7 1049C383.8 1045.7 384 1041.3 384.1 1038C384.3 1034.7 384.4 1030.3 384.6 1027C384.7 1023.7 384.9 1019.3 385 1016C385.2 1012.7 385.3 1008.3 385.5 1005C385.6 1001.7 385.8 997.3 385.9 994C386 990.7 386.2 986.3 386.3 983C386.5 979.7 386.6 975.3 386.8 972C386.9 968.7 386.9 964.3 387.2 961C387.9 954.7 388.9 946.3 390 940C390.5 937 391.7 933 392.5 930C393.3 927 394.5 923 395.5 920C396.5 917 397.9 913 399 910C400.1 907 401.4 903 402.5 900C403.6 897 405.1 893 406 890C407.3 885.8 408.7 880.2 410 876C411.5 871.2 413.8 864.8 415.5 860C417.1 855.8 419.3 850.2 421 846C422.9 841.5 425.4 835.4 427.5 831C428.7 828.5 430.8 825.4 432.2 823C434.1 819.9 436.5 815.7 438.4 812.5C440.3 809.4 442.6 805.1 444.6 802C446.4 799.3 448.9 795.8 450.8 793.2C452.6 790.8 455.2 787.7 457 785.3C458.9 783 461.4 779.8 463.2 777.5C465.1 775.1 467.5 771.9 469.4 769.6C471.2 767.6 473.7 765 475.6 763.1C478.1 760.6 481.4 757.3 483.9 754.8C487 751.7 491.1 747.6 494.2 744.5C498.9 739.8 505 733.5 509.8 729C514.3 724.5 520.6 718.6 525.3 714.3C528.3 711.5 532.5 707.9 535.6 705.1C540.3 701 546.2 695.1 551.1 691.3C553.9 689.2 558.3 687.3 561.5 685.6C566.1 683 572.3 679.7 577 677.2C580.4 675.3 584.8 672.6 588.3 671C604.4 663.5 625.7 653.3 642.2 646.8C655.8 641.4 674.6 635.8 688.5 631.4C705.4 626 727.9 618.7 745 614C760.3 609.8 780.9 605.1 796.4 601.9C811.7 598.7 832.3 595.1 847.8 592.6C863.2 590.1 883.7 587.1 899.2 585.2C929.6 581.5 970.2 577.2 1000.7 574.2C1031.9 571.1 1073.6 567.9 1104.8 565C1135.7 562.1 1177 558.8 1207.8 554.7C1239.3 550.5 1281.6 544.9 1312.3 537.5C1328.3 533.7 1354.6 529.8 1363.4 517.2C1383.6 488.4 1395.3 434.9 1409 399.6" fill="none" stroke="#000000" stroke-width="9" stroke-linejoin="round" stroke-linecap="round"/>
<path d="M381.5 1615L408.5 1642L381.5 1669L354.5 1642Z" fill="#000000" stroke="#000000" stroke-width="6" stroke-linejoin="round"/>
<path d="M381.5 1557L408.5 1584L381.5 1611L354.5 1584Z" fill="#000000" stroke="#000000" stroke-width="6" stroke-linejoin="round"/>
<path d="M381.5 1440L408.5 1467L381.5 1494L354.5 1467Z" fill="#000000" stroke="#000000" stroke-width="6" stroke-linejoin="round"/>
<path d="M381.5 1411L408.5 1438L381.5 1465L354.5 1438Z" fill="#000000" stroke="#000000" stroke-width="6" stroke-linejoin="round"/>
<path d="M381.5 1380L408.5 1407L381.5 1434L354.5 1407Z" fill="#000000" stroke="#000000" stroke-width="6" stroke-linejoin="round"/>
<path d="M381.5 1294L408.5 1321L381.5 1348L354.5 1321Z" fill="#000000" stroke="#000000" stroke-width="6" stroke-linejoin="round"/>
<path d="M381.5 1230L408.5 1257L381.5 1284L354.5 1257Z" fill="#000000" stroke="#000000" stroke-width="6" stroke-linejoin="round"/>
<path d="M381.5 1216L408.5 1243L381.5 1270L354.5 1243Z" fill="#000000" stroke="#000000" stroke-width="6" stroke-linejoin="round"/>
<path d="M381.5 1203L408.5 1230L381.5 1257L354.5 1230Z" fill="#000000" stroke="#000000" stroke-width="6" stroke-linejoin="round"/>
<path d="M381.5 1189L408.5 1216L381.5 1243L354.5 1216Z" fill="#000000" stroke="#000000" stroke-width="6" stroke-linejoin="round"/>
<path d="M381.5 1175L408.5 1202L381.5 1229L354.5 1202Z" fill="#000000" stroke="#000000" stroke-width="6" stroke-linejoin="round"/>
<path d="M381.5 1137L408.5 1164L381.5 1191L354.5 1164Z" fill="#000000" stroke="#000000" stroke-width="6" stroke-linejoin="round"/>
<path d="M381.5 1127L408.5 1154L381.5 1181L354.5 1154Z" fill="#000000" stroke="#000000" stroke-width="6" stroke-linejoin="round"/>
<path d="M381.5 1117L408.5 1144L381.5 1171L354.5 1144Z" fill="#000000" stroke="#000000" stroke-width="6" stroke-linejoin="round"/>
<path d="M381.5 1090L408.5 1117L381.5 1144L354.5 1117Z" fill="#000000" stroke="#000000" stroke-width="6" stroke-linejoin="round"/>
<path d="M381.5 1077L408.5 1104L381.5 1131L354.5 1104Z" fill="#000000" stroke="#000000" stroke-width="6" stroke-linejoin="round"/>
<path d="M381.9 1066L408.9 1093L381.9 1120L354.9 1093Z" fill="#000000" stroke="#000000" stroke-width="6" stroke-linejoin="round"/>
<path d="M382.4 1055L409.4 1082L382.4 1109L355.4 1082Z" fill="#000000" stroke="#000000" stroke-width="6" stroke-linejoin="round"/>
<path d="M382.8 1044L409.8 1071L382.8 1098L355.8 1071Z" fill="#000000" stroke="#000000" stroke-width="6" stroke-linejoin="round"/>
<path d="M383.3 1033L410.3 1060L383.3 1087L356.3 1060Z" fill="#000000" stroke="#000000" stroke-width="6" stroke-linejoin="round"/>
<path d="M383.7 1022L410.7 1049L383.7 1076L356.7 1049Z" fill="#000000" stroke="#000000" stroke-width="6" stroke-linejoin="round"/>
<path d="M384.1 1011L411.1 1038L384.1 1065L357.1 1038Z" fill="#000000" stroke="#000000" stroke-width="6" stroke-linejoin="round"/>
<path d="M384.6 1000L411.6 1027L384.6 1054L357.6 1027Z" fill="#000000" stroke="#000000" stroke-width="6" stroke-linejoin="round"/>
<path d="M385 989L412 1016L385 1043L358 1016Z" fill="#000000" stroke="#000000" stroke-width="6" stroke-linejoin="round"/>
<path d="M385.5 978L412.5 1005L385.5 1032L358.5 1005Z" fill="#000000" stroke="#000000" stroke-width="6" stroke-linejoin="round"/>
<path d="M385.9 967L412.9 994L385.9 1021L358.9 994Z" fill="#000000" stroke="#000000" stroke-width="6" stroke-linejoin="round"/>
<path d="M386.3 956L413.3 983L386.3 1010L359.3 983Z" fill="#000000" stroke="#000000" stroke-width="6" stroke-linejoin="round"/>
<path d="M386.8 945L413.8 972L386.8 999L359.8 972Z" fill="#000000" stroke="#000000" stroke-width="6" stroke-linejoin="round"/>
<path d="M387.2 934L414.2 961L387.2 988L360.2 961Z" fill="#000000" stroke="#000000" stroke-width="6" stroke-linejoin="round"/>
<path d="M390 913L417 940L390 967L363 940Z" fill="#000000" stroke="#000000" stroke-width="6" stroke-linejoin="round"/>
<path d="M392.5 903L419.5 930L392.5 957L365.5 930Z" fill="#000000" stroke="#000000" stroke-width="6" stroke-linejoin="round"/>
<path d="M395.5 893L422.5 920L395.5 947L368.5 920Z" fill="#000000" stroke="#000000" stroke-width="6" stroke-linejoin="round"/>
<path d="M399 883L426 910L399 937L372 910Z" fill="#000000" stroke="#000000" stroke-width="6" stroke-linejoin="round"/>
<path d="M402.5 873L429.5 900L402.5 927L375.5 900Z" fill="#000000" stroke="#000000" stroke-width="6" stroke-linejoin="round"/>
<path d="M406 863L433 890L406 917L379 890Z" fill="#000000" stroke="#000000" stroke-width="6" stroke-linejoin="round"/>
<path d="M410 849L437 876L410 903L383 876Z" fill="#000000" stroke="#000000" stroke-width="6" stroke-linejoin="round"/>
<path d="M415.5 833L442.5 860L415.5 887L388.5 860Z" fill="#000000" stroke="#000000" stroke-width="6" stroke-linejoin="round"/>
<path d="M421 819L448 846L421 873L394 846Z" fill="#000000" stroke="#000000" stroke-width="6" stroke-linejoin="round"/>
<path d="M427.5 804L454.5 831L427.5 858L400.5 831Z" fill="#000000" stroke="#000000" stroke-width="6" stroke-linejoin="round"/>
<path d="M432.2 796L459.2 823L432.2 850L405.2 823Z" fill="#000000" stroke="#000000" stroke-width="6" stroke-linejoin="round"/>
<path d="M438.4 785.5L465.4 812.5L438.4 839.5L411.4 812.5Z" fill="#000000" stroke="#000000" stroke-width="6" stroke-linejoin="round"/>
<path d="M444.6 775L471.6 802L444.6 829L417.6 802Z" fill="#000000" stroke="#000000" stroke-width="6" stroke-linejoin="round"/>
<path d="M450.8 766.2L477.8 793.2L450.8 820.2L423.8 793.2Z" fill="#000000" stroke="#000000" stroke-width="6" stroke-linejoin="round"/>
<path d="M457 758.3L484 785.3L457 812.3L430 785.3Z" fill="#000000" stroke="#000000" stroke-width="6" stroke-linejoin="round"/>
<path d="M463.2 750.5L490.2 777.5L463.2 804.5L436.2 777.5Z" fill="#000000" stroke="#000000" stroke-width="6" stroke-linejoin="round"/>
<path d="M469.4 742.6L496.4 769.6L469.4 796.6L442.4 769.6Z" fill="#000000" stroke="#000000" stroke-width="6" stroke-linejoin="round"/>
<path d="M475.6 736.1L502.6 763.1L475.6 790.1L448.6 763.1Z" fill="#000000" stroke="#000000" stroke-width="6" stroke-linejoin="round"/>
<path d="M483.9 727.8L510.9 754.8L483.9 781.8L456.9 754.8Z" fill="#000000" stroke="#000000" stroke-width="6" stroke-linejoin="round"/>
<path d="M494.2 717.5L521.2 744.5L494.2 771.5L467.2 744.5Z" fill="#000000" stroke="#000000" stroke-width="6" stroke-linejoin="round"/>
<path d="M509.8 702L536.8 729L509.8 756L482.8 729Z" fill="#000000" stroke="#000000" stroke-width="6" stroke-linejoin="round"/>
<path d="M525.3 687.3L552.3 714.3L525.3 741.3L498.3 714.3Z" fill="#000000" stroke="#000000" stroke-width="6" stroke-linejoin="round"/>
<path d="M535.6 678.1L562.6 705.1L535.6 732.1L508.6 705.1Z" fill="#000000" stroke="#000000" stroke-width="6" stroke-linejoin="round"/>
<path d="M551.1 664.3L578.1 691.3L551.1 718.3L524.1 691.3Z" fill="#000000" stroke="#000000" stroke-width="6" stroke-linejoin="round"/>
<path d="M561.5 658.6L588.5 685.6L561.5 712.6L534.5 685.6Z" fill="#000000" stroke="#000000" stroke-width="6" stroke-linejoin="round"/>
<path d="M577 650.2L604 677.2L577 704.2L550 677.2Z" fill="#000000" stroke="#000000" stroke-width="6" stroke-linejoin="round"/>
<path d="M588.3 644L615.3 671L588.3 698L561.3 671Z" fill="#000000" stroke="#000000" stroke-width="6" stroke-linejoin="round"/>
<path d="M642.2 619.8L669.2 646.8L642.2 673.8L615.2 646.8Z" fill="#000000" stroke="#000000" stroke-width="6" stroke-linejoin="round"/>
<path d="M688.5 604.4L715.5 631.4L688.5 658.4L661.5 631.4Z" fill="#000000" stroke="#000000" stroke-width="6" stroke-linejoin="round"/>
<path d="M745 587L772 614L745 641L718 614Z" fill="#000000" stroke="#000000" stroke-width="6" stroke-linejoin="round"/>
<path d="M796.4 574.9L823.4 601.9L796.4 628.9L769.4 601.9Z" fill="#000000" stroke="#000000" stroke-width="6" stroke-linejoin="round"/>
<path d="M847.8 565.6L874.8 592.6L847.8 619.6L820.8 592.6Z" fill="#000000" stroke="#000000" stroke-width="6" stroke-linejoin="round"/>
<path d="M899.2 558.2L926.2 585.2L899.2 612.2L872.2 585.2Z" fill="#000000" stroke="#000000" stroke-width="6" stroke-linejoin="round"/>
<path d="M1000.7 547.2L1027.7 574.2L1000.7 601.2L973.7 574.2Z" fill="#000000" stroke="#000000" stroke-width="6" stroke-linejoin="round"/>
<path d="M1104.8 538L1131.8 565L1104.8 592L1077.8 565Z" fill="#000000" stroke="#000000" stroke-width="6" stroke-linejoin="round"/>
<path d="M1207.8 527.7L1234.8 554.7L1207.8 581.7L1180.8 554.7Z" fill="#000000" stroke="#000000" stroke-width="6" stroke-linejoin="round"/>
<path d="M1312.3 510.5L1339.3 537.5L1312.3 564.5L1285.3 537.5Z" fill="#000000" stroke="#000000" stroke-width="6" stroke-linejoin="round"/>
<path d="M1363.4 490.2L1390.4 517.2L1363.4 544.2L1336.4 517.2Z" fill="#000000" stroke="#000000" stroke-width="6" stroke-linejoin="round"/>
<path d="M1409 372.6L1436 399.6L1409 426.6L1382 399.6Z" fill="#000000" stroke="#000000" stroke-width="6" stroke-linejoin="round"/>
<path d="M1409 399.6C1395.8 417.5 1381.9 447.3 1365 459.4C1352.5 468.4 1327.3 468 1310.9 470.1C1280.1 474.1 1238.7 477.1 1207.8 479.7C1176 482.4 1133.6 485.2 1101.8 488C1071.3 490.7 1030.6 494.2 1000.2 497.9C969 501.7 920.7 497.7 896.6 512.7C875 526.1 867.1 575.4 847.8 592.6C837 602.2 811.7 598.4 796.4 601.9C779.6 605.7 757.6 612.5 741 617" fill="none" stroke="#000000" stroke-width="9" stroke-linejoin="round" stroke-linecap="round"/>
<path d="M1409 378.1L1430.5 399.6L1409 421.1L1387.5 399.6Z" fill="#000000" stroke="#000000" stroke-width="6" stroke-linejoin="round"/>
<path d="M1365 437.9L1386.5 459.4L1365 480.9L1343.5 459.4Z" fill="#000000" stroke="#000000" stroke-width="6" stroke-linejoin="round"/>
<path d="M1310.9 448.6L1332.4 470.1L1310.9 491.6L1289.4 470.1Z" fill="#000000" stroke="#000000" stroke-width="6" stroke-linejoin="round"/>
<path d="M1207.8 458.2L1229.3 479.7L1207.8 501.2L1186.3 479.7Z" fill="#000000" stroke="#000000" stroke-width="6" stroke-linejoin="round"/>
<path d="M1101.8 466.5L1123.3 488L1101.8 509.5L1080.3 488Z" fill="#000000" stroke="#000000" stroke-width="6" stroke-linejoin="round"/>
<path d="M1000.2 476.4L1021.7 497.9L1000.2 519.4L978.7 497.9Z" fill="#000000" stroke="#000000" stroke-width="6" stroke-linejoin="round"/>
<path d="M896.6 491.2L918.1 512.7L896.6 534.2L875.1 512.7Z" fill="#000000" stroke="#000000" stroke-width="6" stroke-linejoin="round"/>
<path d="M847.8 571.1L869.3 592.6L847.8 614.1L826.3 592.6Z" fill="#000000" stroke="#000000" stroke-width="6" stroke-linejoin="round"/>
<path d="M796.4 580.4L817.9 601.9L796.4 623.4L774.9 601.9Z" fill="#000000" stroke="#000000" stroke-width="6" stroke-linejoin="round"/>
<path d="M741 595.5L762.5 617L741 638.5L719.5 617Z" fill="#000000" stroke="#000000" stroke-width="6" stroke-linejoin="round"/></g>
<g><path d="M380.5 1647C380.5 1636.5 380.5 1622.5 380.5 1612C380.5 1595.5 380.5 1573.5 380.5 1557C380.5 1547.4 380.5 1534.6 380.5 1525C380.5 1512.1 380.5 1494.9 380.5 1482C380.5 1477.8 380.5 1472.2 380.5 1468C380.5 1463.8 380.5 1458.2 380.5 1454C380.5 1449.8 380.5 1444.2 380.5 1440C380.5 1435.8 380.5 1430.2 380.5 1426C380.5 1421.8 380.5 1416.2 380.5 1412C380.5 1407.8 380.5 1402.2 380.5 1398C380.5 1393.8 380.5 1388.2 380.5 1384C380.5 1379.8 380.5 1374.2 380.5 1370C380.5 1365.8 380.5 1360.2 380.5 1356C380.5 1351.8 380.5 1346.2 380.5 1342C380.5 1337.8 380.5 1332.2 380.5 1328C380.5 1323.8 380.5 1318.2 380.5 1314C380.5 1309.8 380.5 1304.2 380.5 1300C380.5 1295.8 380.5 1290.2 380.5 1286C380.5 1281.8 380.5 1276.2 380.5 1272C380.5 1267.8 380.5 1262.2 380.5 1258C380.5 1253.8 380.5 1248.2 380.5 1244C380.5 1239.8 380.5 1234.2 380.5 1230C380.5 1225.8 380.5 1220.2 380.5 1216C380.5 1211.8 380.2 1206.2 380.5 1202C380.7 1199.9 381.5 1197.1 382 1195C382.5 1192.9 383.4 1190.1 384 1188C384.6 1185.6 385.3 1182.4 386 1180C386.8 1177.6 388.1 1174.4 389 1172C389.9 1169.6 391.1 1166.4 392 1164C392.9 1161.3 393.9 1157.6 395 1155C396 1152.8 397.7 1150 399 1148C400.4 1145.8 402.5 1143.1 404 1141C405.8 1138.6 408.1 1135.3 410 1133C412 1130.5 414.9 1127.4 417 1125C419.1 1122.7 421.8 1119.5 423.9 1117.2C425.8 1115.1 428.3 1112.4 430.1 1110.4C432 1108.3 434.5 1105.6 436.3 1103.5C438.2 1101.5 440.7 1098.7 442.5 1096.7C444.4 1094.7 446.9 1092.2 448.7 1090.3C450.6 1088.4 453.1 1085.9 454.9 1084.1C456.8 1082.2 459.2 1079.6 461.2 1077.8C462.9 1076.3 465.5 1074.4 467.4 1072.9C469.2 1071.5 471.7 1069.6 473.6 1068.2C476.7 1065.8 480.7 1062.6 483.9 1060.4C491.1 1055.4 500.6 1048.8 508 1044.2C516.2 1039.1 527.5 1032.6 536 1028C544 1023.7 554.9 1018.3 563.1 1014.4C571.1 1010.6 581.9 1005.6 590.2 1002.6C604.5 997.5 624 991.8 638.5 987.4C653.9 982.7 674.5 976.7 689.9 972.1C705.6 967.4 726.4 960.2 742.3 956.3C757.8 952.5 778.9 948.6 794.7 946.5C810.6 944.3 832.2 943.6 848.2 942C863.4 940.5 883.5 937.7 898.7 936C929 932.5 969.4 927.6 999.7 924.6C1031.3 921.5 1073.7 918.9 1105.3 915.8C1135.9 912.8 1176.8 908.3 1207.3 904.4C1239 900.3 1281.6 895.5 1312.9 889.2C1328.2 886.1 1352.6 883.9 1362.4 873.1C1381.2 852.5 1394.6 811.1 1408.4 784.5" fill="none" stroke="#753000" stroke-width="9" stroke-linejoin="round" stroke-linecap="round"/>
<circle cx="380.5" cy="1647" r="21.2" fill="#753000"/>
<circle cx="380.5" cy="1612" r="21.2" fill="#753000"/>
<circle cx="380.5" cy="1557" r="21.2" fill="#753000"/>
<circle cx="380.5" cy="1525" r="21.2" fill="#753000"/>
<circle cx="380.5" cy="1482" r="21.2" fill="#753000"/>
<circle cx="380.5" cy="1468" r="21.2" fill="#753000"/>
<circle cx="380.5" cy="1454" r="21.2" fill="#753000"/>
<circle cx="380.5" cy="1440" r="21.2" fill="#753000"/>
<circle cx="380.5" cy="1426" r="21.2" fill="#753000"/>
<circle cx="380.5" cy="1412" r="21.2" fill="#753000"/>
<circle cx="380.5" cy="1398" r="21.2" fill="#753000"/>
<circle cx="380.5" cy="1384" r="21.2" fill="#753000"/>
<circle cx="380.5" cy="1370" r="21.2" fill="#753000"/>
<circle cx="380.5" cy="1356" r="21.2" fill="#753000"/>
<circle cx="380.5" cy="1342" r="21.2" fill="#753000"/>
<circle cx="380.5" cy="1328" r="21.2" fill="#753000"/>
<circle cx="380.5" cy="1314" r="21.2" fill="#753000"/>
<circle cx="380.5" cy="1300" r="21.2" fill="#753000"/>
<circle cx="380.5" cy="1286" r="21.2" fill="#753000"/>
<circle cx="380.5" cy="1272" r="21.2" fill="#753000"/>
<circle cx="380.5" cy="1258" r="21.2" fill="#753000"/>
<circle cx="380.5" cy="1244" r="21.2" fill="#753000"/>
<circle cx="380.5" cy="1230" r="21.2" fill="#753000"/>
<circle cx="380.5" cy="1216" r="21.2" fill="#753000"/>
<circle cx="380.5" cy="1202" r="21.2" fill="#753000"/>
<circle cx="382" cy="1195" r="21.2" fill="#753000"/>
<circle cx="384" cy="1188" r="21.2" fill="#753000"/>
<circle cx="386" cy="1180" r="21.2" fill="#753000"/>
<circle cx="389" cy="1172" r="21.2" fill="#753000"/>
<circle cx="392" cy="1164" r="21.2" fill="#753000"/>
<circle cx="395" cy="1155" r="21.2" fill="#753000"/>
<circle cx="399" cy="1148" r="21.2" fill="#753000"/>
<circle cx="404" cy="1141" r="21.2" fill="#753000"/>
<circle cx="410" cy="1133" r="21.2" fill="#753000"/>
<circle cx="417" cy="1125" r="21.2" fill="#753000"/>
<circle cx="423.9" cy="1117.2" r="21.2" fill="#753000"/>
<circle cx="430.1" cy="1110.4" r="21.2" fill="#753000"/>
<circle cx="436.3" cy="1103.5" r="21.2" fill="#753000"/>
<circle cx="442.5" cy="1096.7" r="21.2" fill="#753000"/>
<circle cx="448.7" cy="1090.3" r="21.2" fill="#753000"/>
<circle cx="454.9" cy="1084.1" r="21.2" fill="#753000"/>
<circle cx="461.2" cy="1077.8" r="21.2" fill="#753000"/>
<circle cx="467.4" cy="1072.9" r="21.2" fill="#753000"/>
<circle cx="473.6" cy="1068.2" r="21.2" fill="#753000"/>
<circle cx="483.9" cy="1060.4" r="21.2" fill="#753000"/>
<circle cx="508" cy="1044.2" r="21.2" fill="#753000"/>
<circle cx="536" cy="1028" r="21.2" fill="#753000"/>
<circle cx="563.1" cy="1014.4" r="21.2" fill="#753000"/>
<circle cx="590.2" cy="1002.6" r="21.2" fill="#753000"/>
<circle cx="638.5" cy="987.4" r="21.2" fill="#753000"/>
<circle cx="689.9" cy="972.1" r="21.2" fill="#753000"/>
<circle cx="742.3" cy="956.3" r="21.2" fill="#753000"/>
<circle cx="794.7" cy="946.5" r="21.2" fill="#753000"/>
<circle cx="848.2" cy="942" r="21.2" fill="#753000"/>
<circle cx="898.7" cy="936" r="21.2" fill="#753000"/>
<circle cx="999.7" cy="924.6" r="21.2" fill="#753000"/>
<circle cx="1105.3" cy="915.8" r="21.2" fill="#753000"/>
<circle cx="1207.3" cy="904.4" r="21.2" fill="#753000"/>
<circle cx="1312.9" cy="889.2" r="21.2" fill="#753000"/>
<circle cx="1362.4" cy="873.1" r="21.2" fill="#753000"/>
<circle cx="1408.4" cy="784.5" r="21.2" fill="#753000"/>
<path d="M1408.4 784.5C1393.2 799.6 1375.4 824.1 1357.9 835C1345.5 842.7 1323.7 844.3 1308.7 846.5C1277.8 851 1236.2 854.7 1205 857.5C1173.9 860.3 1132.3 862.5 1101.2 865.3C1070.4 868 1029.5 872.9 998.8 875.9C967.8 878.9 922.6 874.6 895.5 885.5C876.7 893 863.5 927 845.9 937.4C833.2 944.9 810.1 942.8 794.7 945.1" fill="none" stroke="#753000" stroke-width="9" stroke-linejoin="round" stroke-linecap="round"/>
<circle cx="1408.4" cy="784.5" r="21.2" fill="#753000"/>
<circle cx="1357.9" cy="835" r="21.2" fill="#753000"/>
<circle cx="1308.7" cy="846.5" r="21.2" fill="#753000"/>
<circle cx="1205" cy="857.5" r="21.2" fill="#753000"/>
<circle cx="1101.2" cy="865.3" r="21.2" fill="#753000"/>
<circle cx="998.8" cy="875.9" r="21.2" fill="#753000"/>
<circle cx="895.5" cy="885.5" r="21.2" fill="#753000"/>
<circle cx="845.9" cy="937.4" r="21.2" fill="#753000"/>
<circle cx="794.7" cy="945.1" r="21.2" fill="#753000"/></g>
<g><path d="M380.5 1613.5C380.5 1596.4 380.5 1573.6 380.5 1556.5C380.5 1528.9 380.5 1492 380.5 1464.4C380.5 1453.2 380.5 1438.2 380.5 1427C380.5 1415.8 380.5 1400.8 380.5 1389.5C380.5 1369.9 380.5 1343.9 380.5 1324.3C380.5 1305.2 380.5 1279.6 380.5 1260.5C380.5 1249.8 380.5 1235.7 380.5 1225C380.5 1214.5 380.5 1200.5 380.5 1190C380.5 1179.1 380.5 1164.5 380.5 1153.6C380.5 1133.6 380.5 1107 380.5 1087" fill="none" stroke="#006400" stroke-width="6" stroke-linejoin="round" stroke-linecap="round"/>
<path d="M380.5 1087C380.5 1082.8 380.5 1077.2 380.5 1073C380.5 1068.8 380.5 1063.2 380.5 1059C380.5 1054.8 380.5 1049.2 380.5 1045C380.5 1040.8 380.5 1035.2 380.5 1031C380.5 1026.8 380.5 1021.2 380.5 1017C380.5 1012.8 380.5 1007.2 380.5 1003C380.5 998.8 380.6 993.2 380.7 989C380.8 984.8 380.9 979.2 381 975C381.1 970.8 381.2 965.2 381.3 961C381.4 956.8 381.5 951.2 381.6 947C381.6 942.8 381.8 937.2 381.8 933C381.9 928.8 382 923.2 382.1 919C382.2 914.8 382.3 909.2 382.4 905C382.5 900.5 382.8 894.5 383 890C383.2 885.5 383.7 879.5 384 875C384.3 870.5 384.7 864.5 385 860C385.3 855.5 385.7 849.5 386 845C386.3 840.5 386.6 834.5 387 830C387.4 825.2 388.1 818.8 388.5 814C388.9 809.2 389.5 802.8 390 798C390.6 792.3 391.4 784.7 392 779C392.6 773.3 393.2 765.7 394 760C394.9 754 396.4 746 397.5 740C398.5 734.3 399.7 726.6 401 721C402.9 712.7 405.8 701.7 408.3 693.5C411.1 684.3 415.1 672.1 418.4 663.1C421.2 655.4 425.5 645.3 428.6 637.7C431.6 630.1 435.2 619.7 438.7 612.4C441.7 606.1 447.4 598.4 450.5 592.1C454 585.2 457.1 575.2 460.7 568.4C463.2 563.6 467.4 557.4 470.8 553.2C473.5 549.9 478.2 546.4 481 543.1C490.9 531.7 503.1 515.5 513.1 504.2C519.3 497.2 528.2 488.6 535 482.2C542.2 475.4 552.1 466.6 559.7 460.3C567.5 453.8 578 445 586.4 439.3C602.1 428.7 623.4 415.1 640 406C654.8 397.9 675.6 389 691 382C706.2 375.2 726.4 365.7 742 360C757.6 354.3 779 348.5 795 344C810.6 339.6 831.6 334.5 847.3 330.5C862.4 326.7 882.5 320.9 897.8 318.1C928.5 312.5 969.7 307.1 1000.6 302.5C1032.4 297.7 1074.9 291.5 1106.7 286.9C1136.6 282.6 1176.6 278.1 1206.3 272.7C1237.8 267 1280 258.7 1310.6 249.7C1327.5 244.7 1355 239.6 1364.7 226.3C1384.3 199.3 1395.3 148.5 1408.4 115.2" fill="none" stroke="#006400" stroke-width="9" stroke-linejoin="round" stroke-linecap="round"/>
<rect x="357.2" y="1590.2" width="46.5" height="46.5" rx="2" fill="#006400"/>
<rect x="357.2" y="1533.2" width="46.5" height="46.5" rx="2" fill="#006400"/>
<rect x="357.2" y="1441.2" width="46.5" height="46.5" rx="2" fill="#006400"/>
<rect x="357.2" y="1403.8" width="46.5" height="46.5" rx="2" fill="#006400"/>
<rect x="357.2" y="1366.2" width="46.5" height="46.5" rx="2" fill="#006400"/>
<rect x="357.2" y="1301" width="46.5" height="46.5" rx="2" fill="#006400"/>
<rect x="357.2" y="1237.2" width="46.5" height="46.5" rx="2" fill="#006400"/>
<rect x="357.2" y="1201.8" width="46.5" height="46.5" rx="2" fill="#006400"/>
<rect x="357.2" y="1166.8" width="46.5" height="46.5" rx="2" fill="#006400"/>
<rect x="357.2" y="1130.3" width="46.5" height="46.5" rx="2" fill="#006400"/>
<rect x="357.2" y="1063.8" width="46.5" height="46.5" rx="2" fill="#006400"/>
<rect x="357.2" y="1049.8" width="46.5" height="46.5" rx="2" fill="#006400"/>
<rect x="357.2" y="1035.8" width="46.5" height="46.5" rx="2" fill="#006400"/>
<rect x="357.2" y="1021.8" width="46.5" height="46.5" rx="2" fill="#006400"/>
<rect x="357.2" y="1007.8" width="46.5" height="46.5" rx="2" fill="#006400"/>
<rect x="357.2" y="993.8" width="46.5" height="46.5" rx="2" fill="#006400"/>
<rect x="357.2" y="979.8" width="46.5" height="46.5" rx="2" fill="#006400"/>
<rect x="357.5" y="965.8" width="46.5" height="46.5" rx="2" fill="#006400"/>
<rect x="357.8" y="951.8" width="46.5" height="46.5" rx="2" fill="#006400"/>
<rect x="358" y="937.8" width="46.5" height="46.5" rx="2" fill="#006400"/>
<rect x="358.3" y="923.8" width="46.5" height="46.5" rx="2" fill="#006400"/>
<rect x="358.6" y="909.8" width="46.5" height="46.5" rx="2" fill="#006400"/>
<rect x="358.9" y="895.8" width="46.5" height="46.5" rx="2" fill="#006400"/>
<rect x="359.1" y="881.8" width="46.5" height="46.5" rx="2" fill="#006400"/>
<rect x="359.8" y="866.8" width="46.5" height="46.5" rx="2" fill="#006400"/>
<rect x="360.8" y="851.8" width="46.5" height="46.5" rx="2" fill="#006400"/>
<rect x="361.8" y="836.8" width="46.5" height="46.5" rx="2" fill="#006400"/>
<rect x="362.8" y="821.8" width="46.5" height="46.5" rx="2" fill="#006400"/>
<rect x="363.8" y="806.8" width="46.5" height="46.5" rx="2" fill="#006400"/>
<rect x="365.2" y="790.8" width="46.5" height="46.5" rx="2" fill="#006400"/>
<rect x="366.8" y="774.8" width="46.5" height="46.5" rx="2" fill="#006400"/>
<rect x="368.8" y="755.8" width="46.5" height="46.5" rx="2" fill="#006400"/>
<rect x="370.8" y="736.8" width="46.5" height="46.5" rx="2" fill="#006400"/>
<rect x="374.2" y="716.8" width="46.5" height="46.5" rx="2" fill="#006400"/>
<rect x="377.8" y="697.8" width="46.5" height="46.5" rx="2" fill="#006400"/>
<rect x="385.1" y="670.2" width="46.5" height="46.5" rx="2" fill="#006400"/>
<rect x="395.1" y="639.9" width="46.5" height="46.5" rx="2" fill="#006400"/>
<rect x="405.4" y="614.5" width="46.5" height="46.5" rx="2" fill="#006400"/>
<rect x="415.4" y="589.1" width="46.5" height="46.5" rx="2" fill="#006400"/>
<rect x="427.2" y="568.9" width="46.5" height="46.5" rx="2" fill="#006400"/>
<rect x="437.4" y="545.1" width="46.5" height="46.5" rx="2" fill="#006400"/>
<rect x="447.6" y="530" width="46.5" height="46.5" rx="2" fill="#006400"/>
<rect x="457.8" y="519.9" width="46.5" height="46.5" rx="2" fill="#006400"/>
<rect x="489.9" y="480.9" width="46.5" height="46.5" rx="2" fill="#006400"/>
<rect x="511.8" y="458.9" width="46.5" height="46.5" rx="2" fill="#006400"/>
<rect x="536.5" y="437.1" width="46.5" height="46.5" rx="2" fill="#006400"/>
<rect x="563.1" y="416.1" width="46.5" height="46.5" rx="2" fill="#006400"/>
<rect x="616.8" y="382.8" width="46.5" height="46.5" rx="2" fill="#006400"/>
<rect x="667.8" y="358.8" width="46.5" height="46.5" rx="2" fill="#006400"/>
<rect x="718.8" y="336.8" width="46.5" height="46.5" rx="2" fill="#006400"/>
<rect x="771.8" y="320.8" width="46.5" height="46.5" rx="2" fill="#006400"/>
<rect x="824" y="307.2" width="46.5" height="46.5" rx="2" fill="#006400"/>
<rect x="874.5" y="294.9" width="46.5" height="46.5" rx="2" fill="#006400"/>
<rect x="977.4" y="279.2" width="46.5" height="46.5" rx="2" fill="#006400"/>
<rect x="1083.5" y="263.6" width="46.5" height="46.5" rx="2" fill="#006400"/>
<rect x="1183" y="249.4" width="46.5" height="46.5" rx="2" fill="#006400"/>
<rect x="1287.3" y="226.4" width="46.5" height="46.5" rx="2" fill="#006400"/>
<rect x="1341.5" y="203.1" width="46.5" height="46.5" rx="2" fill="#006400"/>
<rect x="1385.2" y="92" width="46.5" height="46.5" rx="2" fill="#006400"/>
<path d="M1408.4 115.2C1395.3 129.4 1380.4 152.5 1364.7 162.5C1351.2 171.1 1327.4 174.2 1311 177.2C1279.9 182.8 1237.7 187.1 1206.3 191C1175.1 194.9 1133.3 199.4 1102.1 203.4C1071.5 207.3 1030.7 212.6 1000.2 217.1C969.4 221.6 921.6 217.8 897.8 233.2C875 247.9 865.3 297.7 845 317.4C833.8 328.3 808.4 329.2 793 335C777 341 756.1 349.9 740.3 356.5C724.8 363 704.2 371.7 688.9 378.5C673.6 385.3 652.9 394.1 638.2 402.1C622.3 410.8 601.5 423.6 586.8 434.2C570.6 445.9 549.3 462.5 535 476.5C518.4 492.7 496.9 515.6 483.7 534.6C466.1 560 444.8 596.3 432.3 624.6C420 652.4 408.4 692 400.9 721.6C395.2 744 392.2 774.9 388.5 797.8" fill="none" stroke="#008000" stroke-width="9" stroke-linejoin="round" stroke-linecap="round"/>
<rect x="1387.4" y="94.2" width="42.1" height="42.1" rx="2" fill="#006400" stroke="#008000" stroke-width="4.4"/>
<rect x="1343.7" y="141.4" width="42.1" height="42.1" rx="2" fill="#006400" stroke="#008000" stroke-width="4.4"/>
<rect x="1290" y="156.1" width="42.1" height="42.1" rx="2" fill="#006400" stroke="#008000" stroke-width="4.4"/>
<rect x="1185.2" y="169.9" width="42.1" height="42.1" rx="2" fill="#006400" stroke="#008000" stroke-width="4.4"/>
<rect x="1081" y="182.3" width="42.1" height="42.1" rx="2" fill="#006400" stroke="#008000" stroke-width="4.4"/>
<rect x="979.2" y="196" width="42.1" height="42.1" rx="2" fill="#006400" stroke="#008000" stroke-width="4.4"/>
<rect x="876.8" y="212.1" width="42.1" height="42.1" rx="2" fill="#006400" stroke="#008000" stroke-width="4.4"/>
<rect x="824" y="296.3" width="42.1" height="42.1" rx="2" fill="#006400" stroke="#008000" stroke-width="4.4"/>
<rect x="772" y="313.9" width="42.1" height="42.1" rx="2" fill="#006400" stroke="#008000" stroke-width="4.4"/>
<rect x="719.2" y="335.4" width="42.1" height="42.1" rx="2" fill="#006400" stroke="#008000" stroke-width="4.4"/>
<rect x="667.9" y="357.4" width="42.1" height="42.1" rx="2" fill="#006400" stroke="#008000" stroke-width="4.4"/>
<rect x="617.2" y="381.1" width="42.1" height="42.1" rx="2" fill="#006400" stroke="#008000" stroke-width="4.4"/>
<rect x="565.8" y="413.1" width="42.1" height="42.1" rx="2" fill="#006400" stroke="#008000" stroke-width="4.4"/>
<rect x="514" y="455.4" width="42.1" height="42.1" rx="2" fill="#006400" stroke="#008000" stroke-width="4.4"/>
<rect x="462.6" y="513.6" width="42.1" height="42.1" rx="2" fill="#006400" stroke="#008000" stroke-width="4.4"/>
<rect x="411.2" y="603.6" width="42.1" height="42.1" rx="2" fill="#006400" stroke="#008000" stroke-width="4.4"/>
<rect x="379.8" y="700.6" width="42.1" height="42.1" rx="2" fill="#006400" stroke="#008000" stroke-width="4.4"/>
<rect x="367.4" y="776.8" width="42.1" height="42.1" rx="2" fill="#006400" stroke="#008000" stroke-width="4.4"/></g>
</svg>
<div class="t yt" style="top:21px;"><span class="s">0.9</span></div>
<div class="t yt" style="top:550px;"><span class="s">0.6</span></div>
<div class="t yt" style="top:1078px;"><span class="s">0.3</span></div>
<div class="t yt" style="top:1607px;"><span class="s">0.0</span></div>
<div class="t xt" style="left:280.5px;top:1716px;"><span class="s">0</span></div>
<div class="t xt" style="left:797.5px;top:1716px;"><span class="s">0.5</span></div>
<div class="t b" id="xl" style="left:829px;top:1928px;"><span class="s">P/P<sub style="position:relative;top:24px;left:-3px;vertical-align:baseline;">0</sub></span></div>
<div class="t b" id="yl" style="left:0;top:0;transform-origin:0 0;transform:translate(24.3px,1116px) rotate(-90deg);"><span class="s">Vliq (cm<sup style="position:relative;top:-26px;vertical-align:baseline;">3</sup> g<sup style="position:relative;top:-26px;vertical-align:baseline;">-<span class="ph"></span></sup>)</span></div>
</body>
</html>
